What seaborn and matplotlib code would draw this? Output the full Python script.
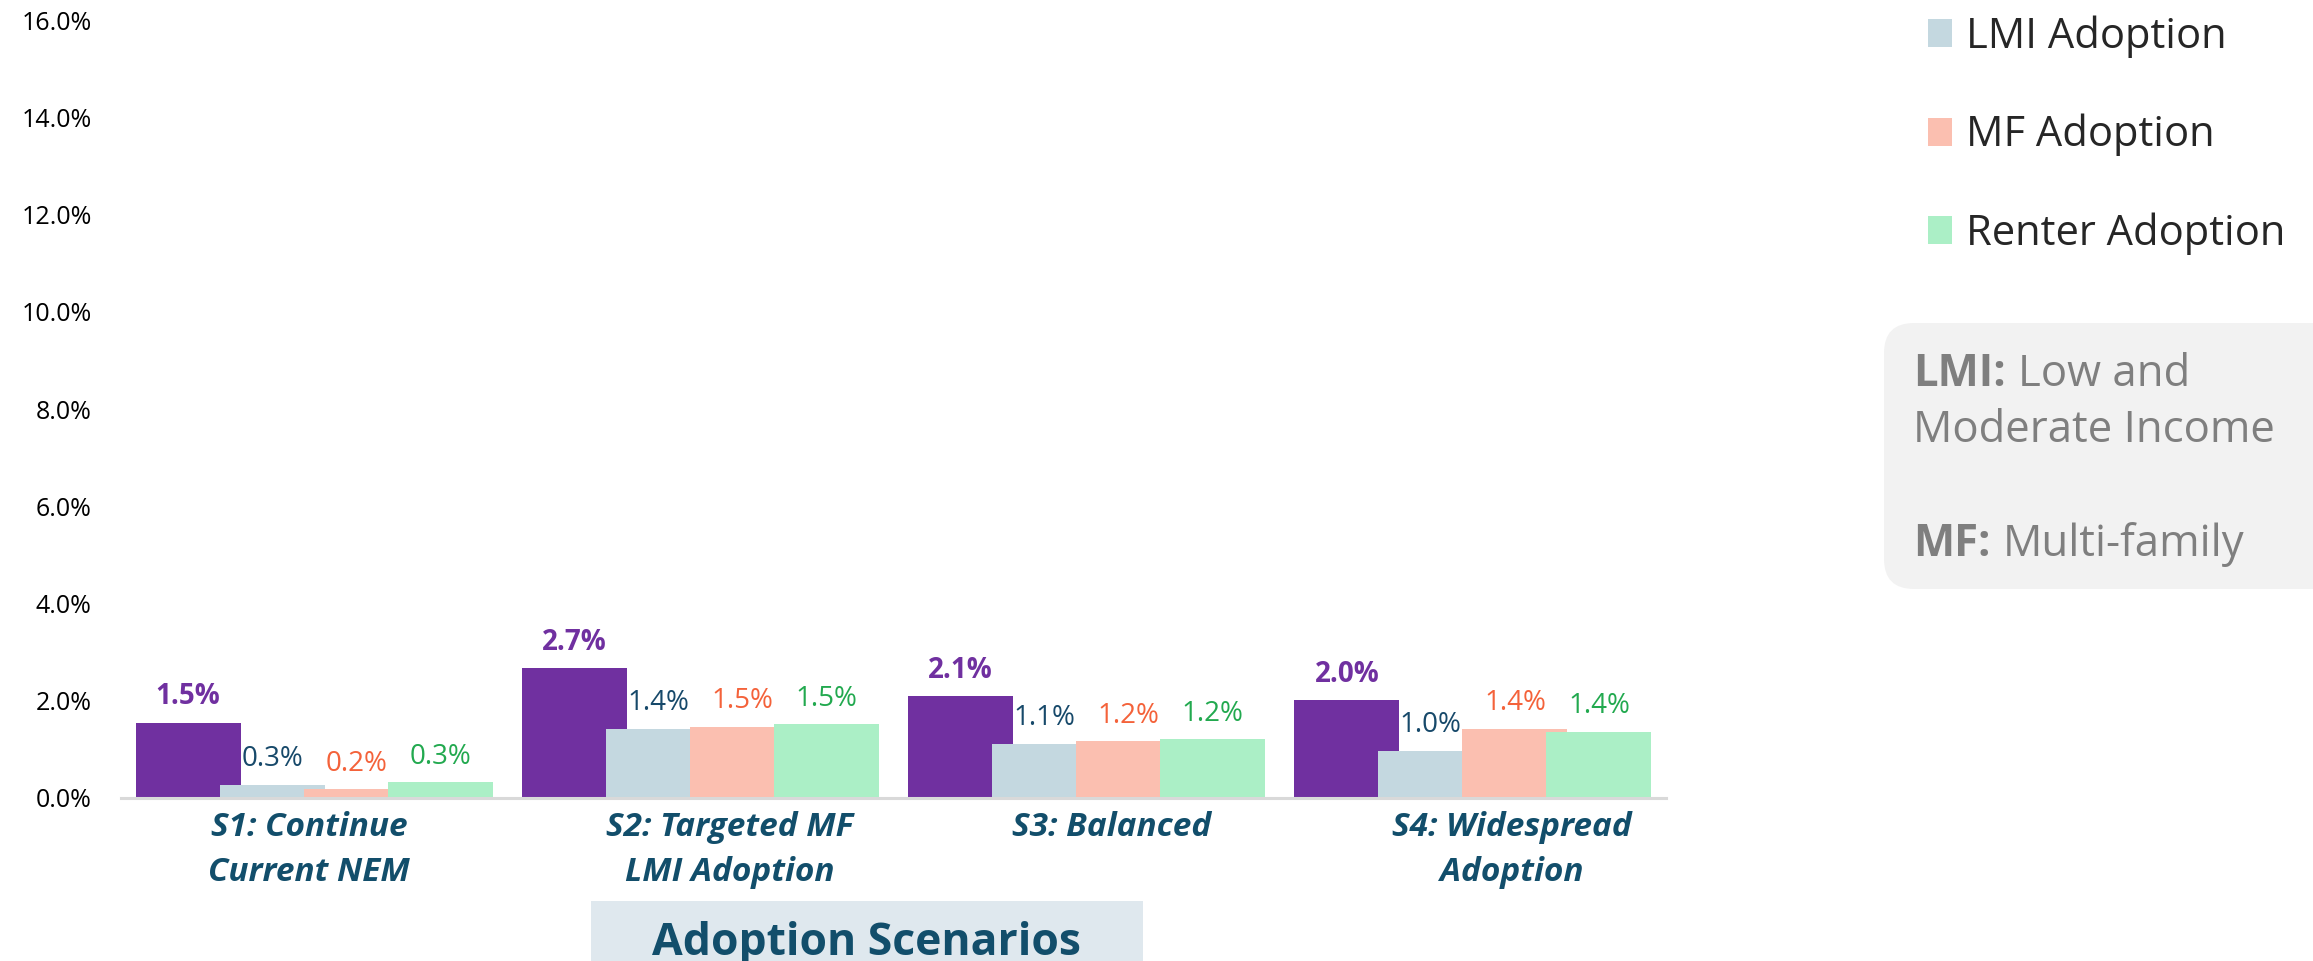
import numpy as np
import pandas as pd
import matplotlib
matplotlib.use("Agg")
import matplotlib.pyplot as plt
from matplotlib.patches import FancyBboxPatch, Rectangle, Patch
from matplotlib.transforms import IdentityTransform
import seaborn as sns

# ---- data -------------------------------------------------------------
scenarios = ["S1: Continue\nCurrent NEM", "S2: Targeted MF\nLMI Adoption",
             "S3: Balanced", "S4: Widespread\nAdoption"]
series = ["Total Adoption", "LMI Adoption", "MF Adoption", "Renter Adoption"]
total_adoption = [1.54, 2.66, 2.09, 2.00]
lmi_adoption = [0.26, 1.42, 1.11, 0.96]
mf_adoption = [0.17, 1.46, 1.16, 1.42]
renter_adoption = [0.31, 1.51, 1.20, 1.35]
y_ticks = [0, 2, 4, 6, 8, 10, 12, 14, 16]

bar_colors = ["#7030A0", "#C4D8E0", "#FBBFB0", "#ABEFC6"]
label_colors = ["#7030A0", "#17496A", "#F4623A", "#22A94F"]
teal = "#124E6B"
grey_text = "#7F7F7F"

# horizontal nudges (points) of the scenario captions
caption_shift_pt = [-3.5, 21, 18, 28]

rows = []
for name, vals in zip(series, [total_adoption, lmi_adoption, mf_adoption, renter_adoption]):
    for sc, v in zip(scenarios, vals):
        rows.append({"scenario": sc, "series": name, "value": v})
df = pd.DataFrame(rows)

# ---- figure -----------------------------------------------------------
sns.set_style("white")
plt.rcParams["font.family"] = ["Open Sans", "DejaVu Sans"]

W, H = 2313, 961
fig = plt.figure(figsize=(W / 100, H / 100), dpi=100)


def fx(x):
    return x / W


def fy(y):
    return 1 - y / H


ax = fig.add_axes([fx(121), fy(797.5), (1666 - 121) / W, (797.5 - 20.6) / H])

sns.barplot(data=df, x="scenario", y="value", hue="series", order=scenarios,
            hue_order=series, palette=bar_colors, saturation=1, width=0.87,
            linewidth=0, legend=False, ax=ax)

# widen each bar about its centre so neighbours overlap slightly
bar_w = 0.272
for cont in ax.containers:
    for bar in cont:
        cx = bar.get_x() + bar.get_width() / 2
        bar.set_width(bar_w)
        bar.set_x(cx - bar_w / 2)

# value labels
for i, cont in enumerate(ax.containers):
    for bar in cont:
        h = bar.get_height()
        cx = bar.get_x() + bar.get_width() / 2
        ax.annotate(f"{h:.1f}%", (cx, h), xytext=(0, 13.3), textcoords="offset points",
                    ha="center", va="baseline", fontsize=20, color=label_colors[i],
                    fontweight="bold" if i == 0 else "normal")

ax.set_ylim(0, 16)
ax.set_xlim(-0.5, 3.5)
ax.set_yticks(y_ticks)
ax.set_yticklabels([f"{t:.1f}%" for t in y_ticks])
ax.tick_params(axis="y", length=0, pad=21, labelsize=18, labelcolor="black")
ax.tick_params(axis="x", length=0, labelbottom=False)
ax.set_xlabel("")
ax.set_ylabel("")

# scenario captions under each group
for i, sc in enumerate(scenarios):
    ax.annotate(sc, (i, 0), xycoords=("data", "axes fraction"),
                xytext=(caption_shift_pt[i], -9.5), textcoords="offset points",
                ha="center", va="top", fontsize=24, fontweight="bold",
                fontstyle="italic", color=teal, linespacing=1.48,
                annotation_clip=False)

for s in ["left", "right", "top"]:
    ax.spines[s].set_visible(False)
ax.spines["bottom"].set_color("#D9D9D9")
ax.spines["bottom"].set_linewidth(2.2)
ax.grid(False)

# ---- legend -----------------------------------------------------------
handles = [Patch(facecolor=c, edgecolor="none") for c in bar_colors[1:]]
fig.legend(handles=handles, labels=series[1:], loc="upper left",
           bbox_to_anchor=(fx(1928), fy(15)), frameon=False, fontsize=30,
           handlelength=0.58, handleheight=0.65, handletextpad=0.34,
           labelspacing=1.35, borderpad=0, borderaxespad=0)

# ---- abbreviation note ------------------------------------------------
note = FancyBboxPatch((1884, H - 589), 2313 - 1884 + 60, 589 - 323,
                      boxstyle="round,pad=0,rounding_size=30",
                      transform=IdentityTransform(), facecolor="#F2F2F2",
                      edgecolor="none", zorder=0)
fig.add_artist(note)

renderer = fig.canvas.get_renderer()
note_size = 31.5


def rich_line(x, y, bold, rest, size=note_size):
    t = fig.text(fx(x), fy(y), bold, fontsize=size, fontweight="bold",
                 color=grey_text, va="baseline", ha="left")
    bb = t.get_window_extent(renderer)
    if rest:
        fig.text(fx(bb.x1 + 12), fy(y), rest, fontsize=size, color=grey_text,
                 va="baseline", ha="left")


rich_line(1913, 386, "LMI:", "Low and")
fig.text(fx(1913), fy(442), "Moderate Income", fontsize=note_size, color=grey_text,
         va="baseline", ha="left")
rich_line(1913, 556, "MF:", "Multi-family")

# ---- axis title band --------------------------------------------------
band = Rectangle((591, -10), 1143 - 591, 10 + (H - 901),
                 transform=IdentityTransform(), facecolor="#DFE8EE",
                 edgecolor="none", zorder=0)
fig.add_artist(band)
fig.text(fx(866), fy(955), "Adoption Scenarios", fontsize=32, fontweight="bold",
         color=teal, ha="center", va="baseline")

fig.savefig("out.png", dpi=100)
